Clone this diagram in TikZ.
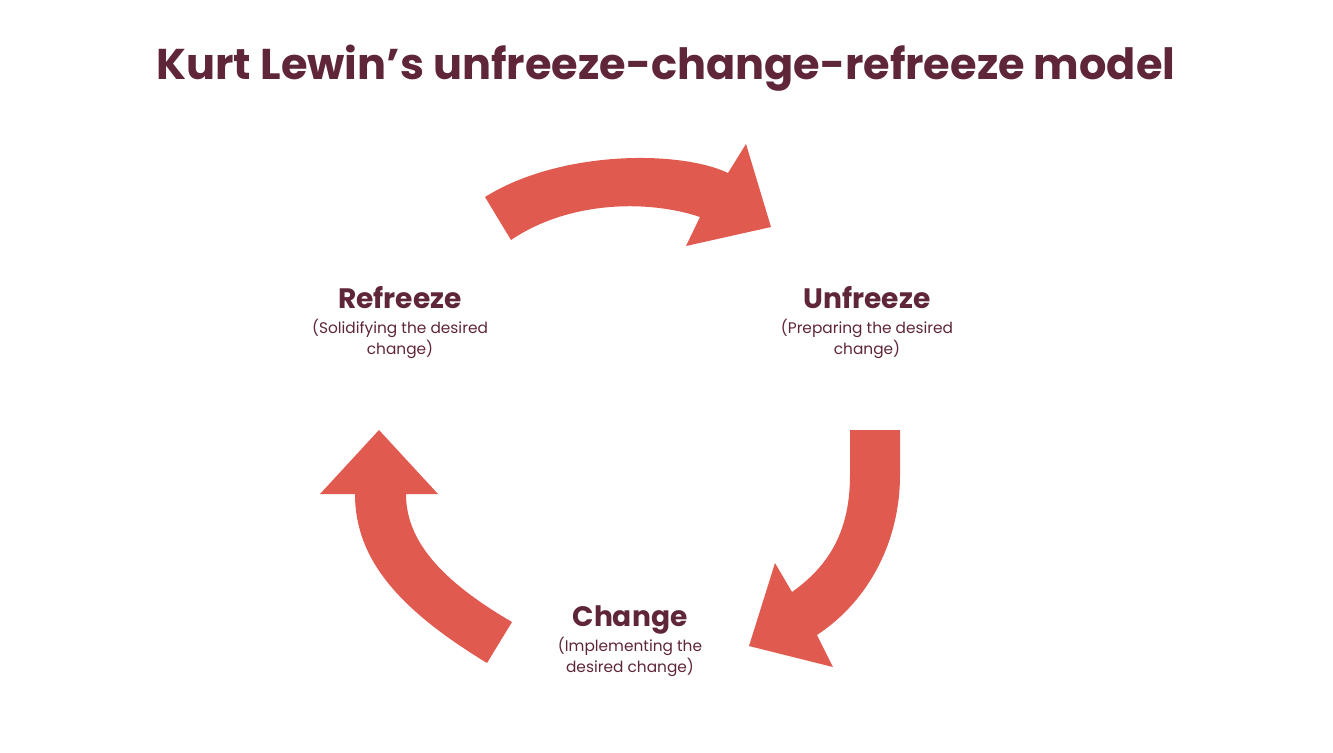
\documentclass[tikz,border=0pt]{standalone}
\usepackage{fontspec}
\setmainfont{Poppins}
\usepackage{xcolor}
\usepackage{tikz}
\usetikzlibrary{positioning}

\definecolor{wine}{RGB}{94,38,56}
\definecolor{coral}{RGB}{224,90,80}

\begin{document}
\begin{tikzpicture}[
    x=0.02cm, y=-0.02cm,
    stage/.style={align=center, text=wine, font=\fontsize{16}{19}\selectfont\bfseries, inner sep=0pt, anchor=base},
    note/.style={align=center, text=wine, font=\fontsize{8.75}{11.9}\selectfont, inner sep=0pt},
    bigarrow/.style={fill=coral, draw=none}
]
\useasboundingbox (0,0) rectangle (1333,752);

% ── Title ──
\node[text=wine, font=\fontsize{24.5}{29}\selectfont\bfseries, inner sep=0pt, anchor=base] (title) at (666,79) {Kurt Lewin’s unfreeze-change-refreeze model};

% ── Stages ──
\node[stage] (refreeze) at (400,308) {Refreeze};
\node[note, below=6pt of refreeze.base] (refreezetxt) {(Solidifying the desired\\change)};

\node[stage] (unfreeze) at (867,308) {Unfreeze};
\node[note, below=6pt of unfreeze.base] (unfreezetxt) {(Preparing the desired\\change)};

\node[stage] (change) at (630,626) {Change};
\node[note, below=6pt of change.base] (changetxt) {(Implementing the\\desired change)};

% ── Arrows ──
% Refreeze -> Unfreeze (top)
\fill[bigarrow] (485,197) .. controls (560,150) and (680,150) .. (728,173)
  -- (746,144) -- (771,227) -- (686,246) -- (700,217)
  .. controls (650,200) and (570,200) .. (511,240) -- cycle;

% Unfreeze -> Change (right)
\fill[bigarrow] (850,430) -- (850,475) .. controls (850,530) and (830,565) .. (792,592)
  -- (775,563) -- (749,646) -- (833,667) -- (817,635)
  .. controls (870,600) and (900,540) .. (900,475) -- (900,430) -- cycle;

% Change -> Refreeze (left)
\fill[bigarrow] (355,494) -- (320,494) -- (379,430) -- (438,494) -- (406,494)
  .. controls (406,540) and (440,580) .. (512,622) -- (487,663)
  .. controls (400,610) and (355,560) .. (355,494) -- cycle;

\end{tikzpicture}
\end{document}
